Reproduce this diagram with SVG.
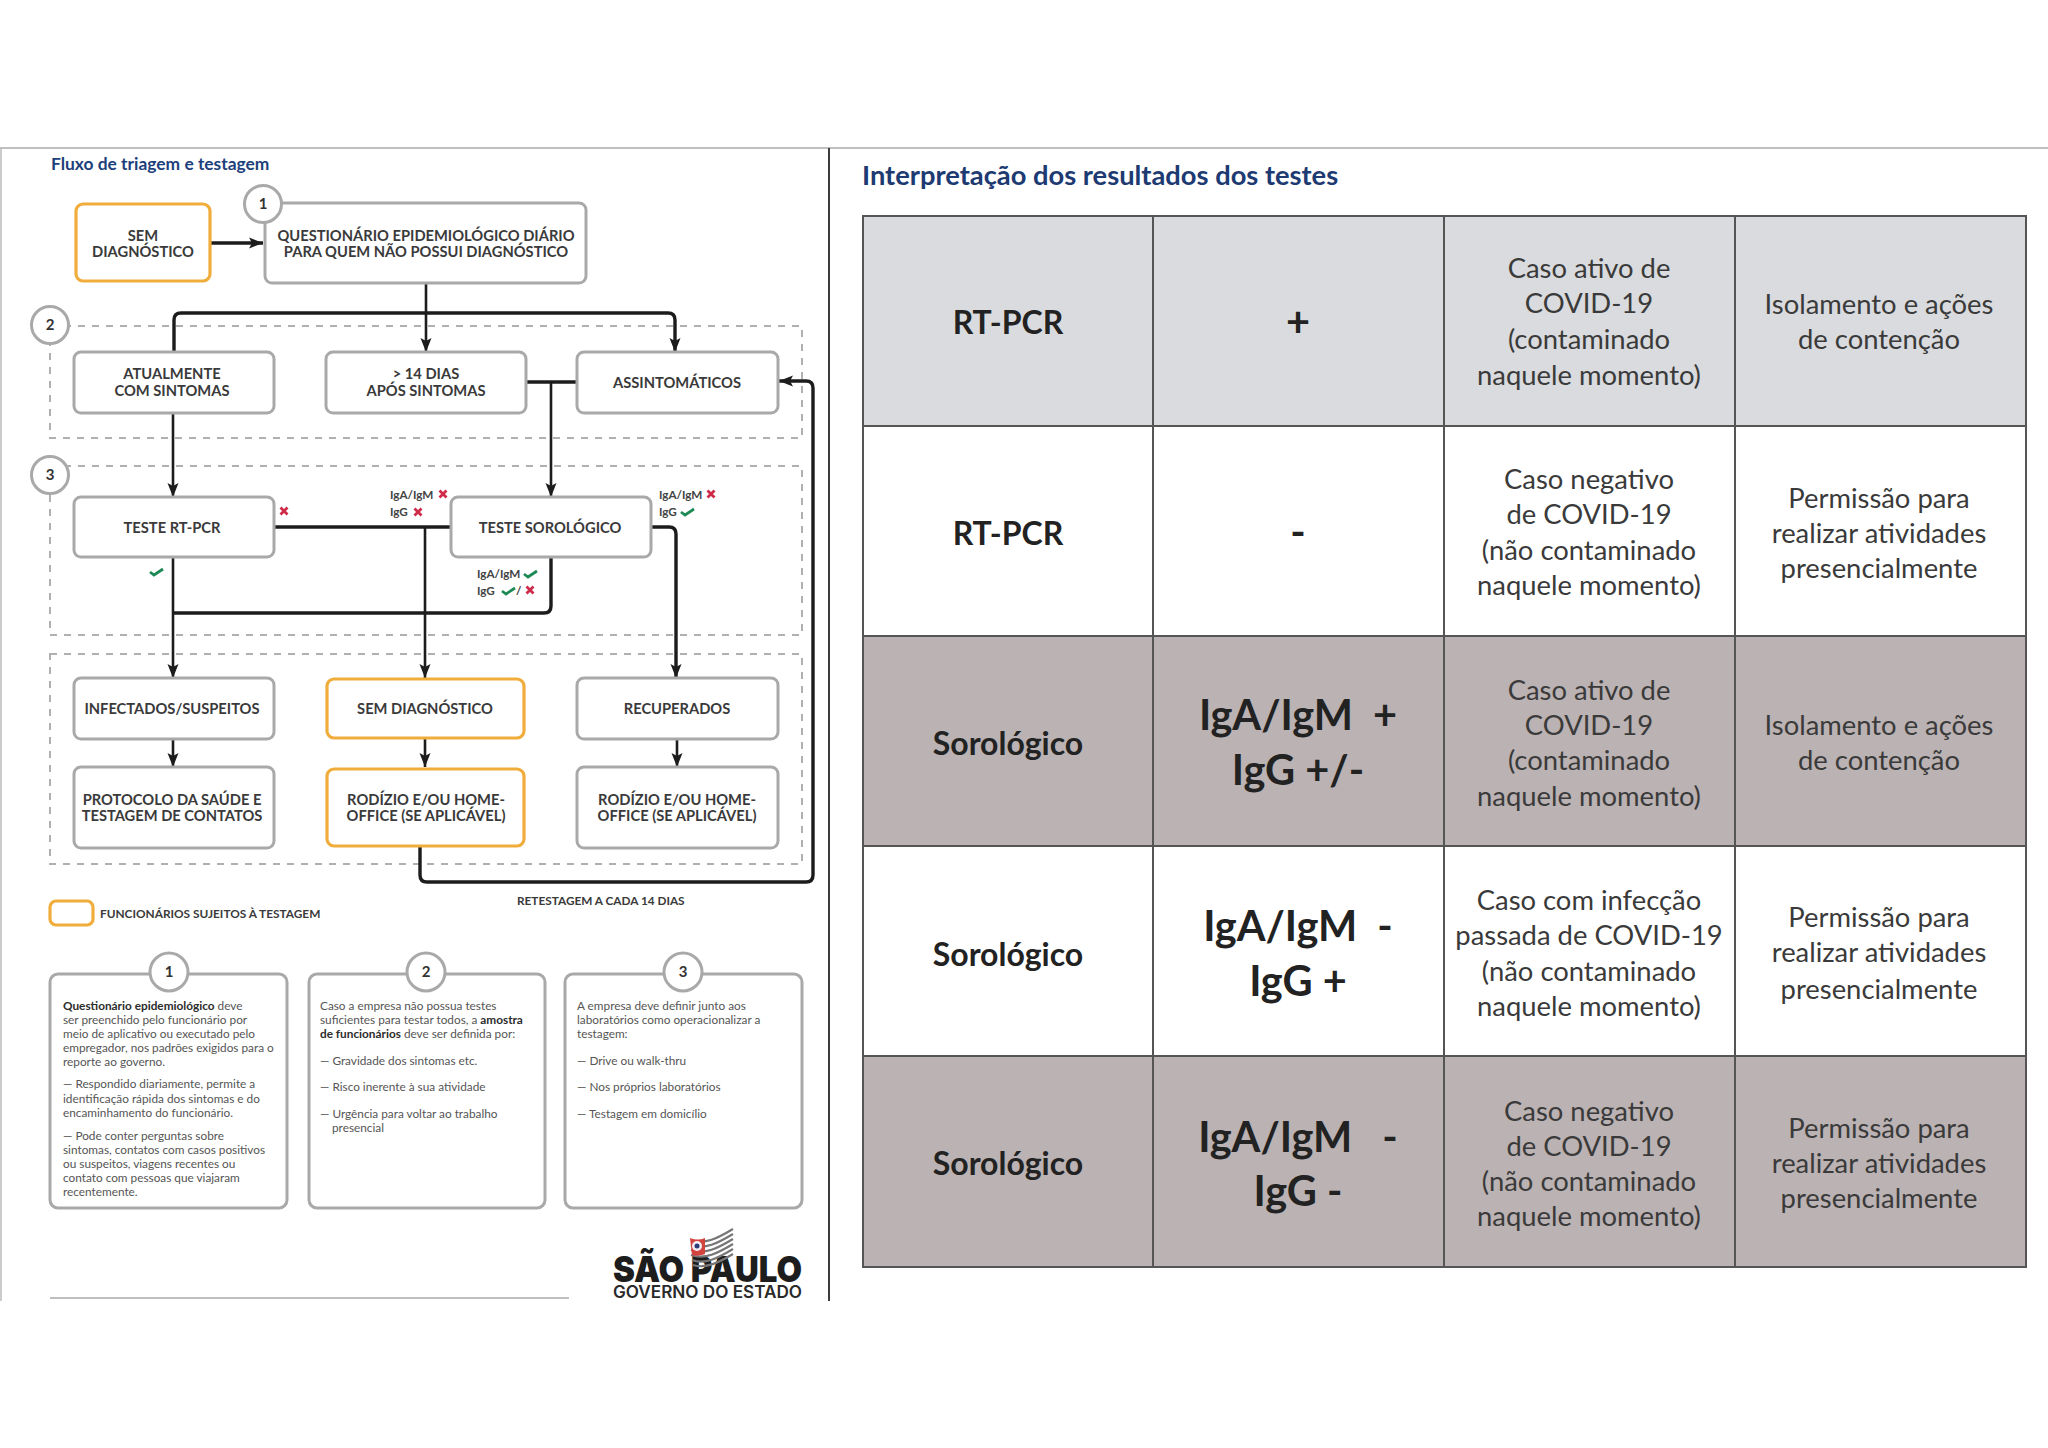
<svg xmlns="http://www.w3.org/2000/svg" width="2048" height="1448" viewBox="0 0 2048 1448">
<style>
text{font-family:Lato,"Liberation Sans",sans-serif}
.box{fill:#fff;stroke:#a9a9a9;stroke-width:3}
.or{fill:#fff;stroke:#f0ad3c;stroke-width:3.2}
.dash{fill:none;stroke:#b0b0b0;stroke-width:2;stroke-dasharray:7 7}
.n{font-size:14.7px;font-weight:700;fill:#3a3a3a;text-anchor:middle}
.circ{fill:#fff;stroke:#a9a9a9;stroke-width:3}
.cn{font-size:15px;font-weight:700;fill:#333;text-anchor:middle}
.w{fill:none;stroke:#1c1c1c;stroke-width:2.6}
.wa{fill:none;stroke:#1c1c1c;stroke-width:2.6;marker-end:url(#a)}
.t{stroke-width:3.4}
.s{font-size:11.7px;font-weight:700;fill:#444}
.p{font-size:11.8px;fill:#555}
.cell{stroke:#555;stroke-width:2}
.c1{font-size:32px;font-weight:700;fill:#222;text-anchor:middle}
.c2{font-size:41.5px;font-weight:700;fill:#222;text-anchor:middle;white-space:pre}
.c3{font-size:27.4px;fill:#3a3a3a;text-anchor:middle}
.x{fill:none;stroke:#cf2a48;stroke-width:2.8}
.k{fill:none;stroke:#1d8a56;stroke-width:2.8}
</style>
<defs>
<marker id="a" markerUnits="userSpaceOnUse" markerWidth="15" markerHeight="12" refX="14" refY="6" orient="auto"><path d="M0 0.5L14 6L0 11.5L3 6Z" fill="#1c1c1c"/></marker>
<path id="cross" class="x" d="M-3.5-3.5L3.5 3.5M-3.5 3.5L3.5-3.5"/>
<path id="check" class="k" d="M-7 0L-3 3L6-3"/>
</defs>
<rect width="2048" height="1448" fill="#fff"/>
<g id="frame">
<path d="M0 148H2048" stroke="#aaa" stroke-width="1.5"/>
<path d="M1 148V1301" stroke="#bbb" stroke-width="1.5"/>
<path d="M829 148V1301" stroke="#3c3c3c" stroke-width="2"/>
<path d="M50 1298H569" stroke="#aaa" stroke-width="1.5"/>
</g>
<text x="51" y="170" font-size="17.4" font-weight="700" fill="#1d3f7c">Fluxo de triagem e testagem</text>
<text x="862" y="185" font-size="27.3" font-weight="700" fill="#1d3a72">Interpretação dos resultados dos testes</text>

<g id="regions">
<rect class="dash" x="50" y="326" width="752" height="112"/>
<rect class="dash" x="50" y="466" width="752" height="169"/>
<rect class="dash" x="50" y="654" width="752" height="210"/>
</g>

<g id="connectors">
<path class="wa t" d="M210 243H263"/>
<path class="wa" d="M426 283V352"/>
<path class="wa t" d="M174 352V320Q174 313 181 313H668Q675 313 675 320V352"/>
<path class="w t" d="M526 382H577"/>
<path class="wa" d="M551 382V497"/>
<path class="wa" d="M173 413V497"/>
<path class="w t" d="M275 527H451"/>
<path class="wa" d="M425 527V678"/>
<path class="wa" d="M173 557V678"/>
<path class="w t" d="M551 557V606Q551 613 544 613H173"/>
<path class="wa t" d="M651 527H669Q676 527 676 534V678"/>
<path class="wa" d="M173 739V767"/>
<path class="wa" d="M425 739V767"/>
<path class="wa" d="M677 739V767"/>
<path class="wa t" d="M420 846V875Q420 882 427 882H806Q813 882 813 875V388Q813 381 806 381H779"/>
</g>

<g id="n-sem"><rect class="or" x="76" y="204" width="134" height="77" rx="7"/><text class="n" x="143" y="241">SEM</text><text class="n" x="143" y="257">DIAGNÓSTICO</text></g>
<g id="n-quest"><rect class="box" x="265" y="203" width="321" height="80" rx="7"/><text class="n" x="426" y="241">QUESTIONÁRIO EPIDEMIOLÓGICO DIÁRIO</text><text class="n" x="426" y="257">PARA QUEM NÃO POSSUI DIAGNÓSTICO</text></g>
<g id="c1"><circle class="circ" cx="263" cy="204" r="18.5"/><text class="cn" x="263" y="209">1</text></g>
<g id="c2"><circle class="circ" cx="50" cy="325" r="18.5"/><text class="cn" x="50" y="330">2</text></g>
<g id="c3"><circle class="circ" cx="50" cy="475" r="18.5"/><text class="cn" x="50" y="480">3</text></g>
<g id="n-atual"><rect class="box" x="74" y="352" width="200" height="61" rx="7"/><text class="n" x="172" y="379">ATUALMENTE</text><text class="n" x="172" y="396">COM SINTOMAS</text></g>
<g id="n-14"><rect class="box" x="326" y="352" width="200" height="61" rx="7"/><text class="n" x="426" y="379">&gt; 14 DIAS</text><text class="n" x="426" y="396">APÓS SINTOMAS</text></g>
<g id="n-assint"><rect class="box" x="577" y="352" width="201" height="61" rx="7"/><text class="n" x="677" y="388">ASSINTOMÁTICOS</text></g>
<g id="n-rt"><rect class="box" x="74" y="497" width="200" height="60" rx="7"/><text class="n" x="172" y="533">TESTE RT-PCR</text></g>
<g id="n-soro"><rect class="box" x="451" y="497" width="200" height="60" rx="7"/><text class="n" x="550" y="533">TESTE SOROLÓGICO</text></g>
<g id="n-inf"><rect class="box" x="74" y="678" width="200" height="61" rx="7"/><text class="n" x="172" y="714">INFECTADOS/SUSPEITOS</text></g>
<g id="n-semd"><rect class="or" x="327" y="679" width="197" height="59" rx="7"/><text class="n" x="425" y="714">SEM DIAGNÓSTICO</text></g>
<g id="n-rec"><rect class="box" x="577" y="678" width="201" height="61" rx="7"/><text class="n" x="677" y="714">RECUPERADOS</text></g>
<g id="n-prot"><rect class="box" x="74" y="767" width="200" height="81" rx="7"/><text class="n" x="172" y="805">PROTOCOLO DA SAÚDE E</text><text class="n" x="172" y="821">TESTAGEM DE CONTATOS</text></g>
<g id="n-rod1"><rect class="or" x="327" y="769" width="197" height="77" rx="7"/><text class="n" x="426" y="805">RODÍZIO E/OU HOME-</text><text class="n" x="426" y="821">OFFICE (SE APLICÁVEL)</text></g>
<g id="n-rod2"><rect class="box" x="577" y="767" width="201" height="81" rx="7"/><text class="n" x="677" y="805">RODÍZIO E/OU HOME-</text><text class="n" x="677" y="821">OFFICE (SE APLICÁVEL)</text></g>

<g id="marks">
<text class="s" x="390" y="499">IgA/IgM</text><use href="#cross" x="443" y="494"/>
<text class="s" x="390" y="516">IgG</text><use href="#cross" x="418" y="512"/>
<text class="s" x="659" y="499">IgA/IgM</text><use href="#cross" x="711" y="494"/>
<text class="s" x="659" y="516">IgG</text><use href="#check" x="688" y="512"/>
<use href="#cross" x="284" y="511"/><use href="#check" x="157" y="572"/>
<text class="s" x="477" y="578">IgA/IgM</text><use href="#check" x="531" y="574"/>
<text class="s" x="477" y="595">IgG</text><use href="#check" x="509" y="591"/><text class="s" x="516" y="595">/</text><use href="#cross" x="530" y="590"/>
</g>

<g id="legend"><rect class="or" x="50" y="901" width="43" height="24" rx="6"/><text x="100" y="918" font-size="11.85" font-weight="700" fill="#3a3a3a">FUNCIONÁRIOS SUJEITOS À TESTAGEM</text></g>
<text x="517" y="905" font-size="11.8" font-weight="700" fill="#3a3a3a">RETESTAGEM A CADA 14 DIAS</text>

<g id="note1"><rect class="box" x="50" y="974" width="237" height="234" rx="8"/><circle class="circ" cx="169" cy="972" r="19"/><text class="cn" x="169" y="977">1</text>
<text class="p" x="63" y="1010"><tspan font-weight="700" fill="#2c2c2c">Questionário epidemiológico</tspan> deve</text>
<text class="p" x="63" y="1024">ser preenchido pelo funcionário por</text>
<text class="p" x="63" y="1038">meio de aplicativo ou executado pelo</text>
<text class="p" x="63" y="1052">empregador, nos padrões exigidos para o</text>
<text class="p" x="63" y="1066">reporte ao governo.</text>
<text class="p" x="63" y="1088">— Respondido diariamente, permite a</text>
<text class="p" x="63" y="1103">identificação rápida dos sintomas e do</text>
<text class="p" x="63" y="1117">encaminhamento do funcionário.</text>
<text class="p" x="63" y="1140">— Pode conter perguntas sobre</text>
<text class="p" x="63" y="1154">sintomas, contatos com casos positivos</text>
<text class="p" x="63" y="1168">ou suspeitos, viagens recentes ou</text>
<text class="p" x="63" y="1182">contato com pessoas que viajaram</text>
<text class="p" x="63" y="1196">recentemente.</text></g>
<g id="note2"><rect class="box" x="309" y="974" width="236" height="234" rx="8"/><circle class="circ" cx="426" cy="972" r="19"/><text class="cn" x="426" y="977">2</text>
<text class="p" x="320" y="1010">Caso a empresa não possua testes</text>
<text class="p" x="320" y="1024">suficientes para testar todos, a <tspan font-weight="700" fill="#2c2c2c">amostra</tspan></text>
<text class="p" x="320" y="1038"><tspan font-weight="700" fill="#2c2c2c">de funcionários</tspan> deve ser definida por:</text>
<text class="p" x="320" y="1065">— Gravidade dos sintomas etc.</text>
<text class="p" x="320" y="1091">— Risco inerente à sua atividade</text>
<text class="p" x="320" y="1118">— Urgência para voltar ao trabalho</text>
<text class="p" x="332" y="1132">presencial</text></g>
<g id="note3"><rect class="box" x="565" y="974" width="237" height="234" rx="8"/><circle class="circ" cx="683" cy="972" r="19"/><text class="cn" x="683" y="977">3</text>
<text class="p" x="577" y="1010">A empresa deve definir junto aos</text>
<text class="p" x="577" y="1024">laboratórios como operacionalizar a</text>
<text class="p" x="577" y="1038">testagem:</text>
<text class="p" x="577" y="1065">— Drive ou walk-thru</text>
<text class="p" x="577" y="1091">— Nos próprios laboratórios</text>
<text class="p" x="577" y="1118">— Testagem em domicílio</text></g>

<g id="logo">
<text x="613" y="1282" font-size="36" font-weight="900" fill="#1d1d1d" textLength="189" lengthAdjust="spacingAndGlyphs" style="font-family:Inter,'Liberation Sans',sans-serif">SÃO PAULO</text>
<text x="613" y="1298" font-size="17" font-weight="600" fill="#2a2a2a" textLength="189" lengthAdjust="spacingAndGlyphs" style="font-family:Inter,'Liberation Sans',sans-serif">GOVERNO DO ESTADO</text>
<g fill="none" stroke="#777" stroke-width="2.2">
<path d="M691 1240C705 1245 718 1238 733 1229"/><path d="M691 1245C705 1250 718 1243 733 1234"/><path d="M691 1250C705 1255 718 1248 733 1239"/><path d="M691 1255C705 1260 718 1253 733 1244"/><path d="M692 1260C705 1265 718 1258 733 1249"/><path d="M693 1265C705 1269 718 1263 733 1254"/>
</g>
<path d="M690 1238C695 1240 700 1240 705 1238V1254C700 1256 695 1256 692 1255Z" fill="#d3443f"/>
<circle cx="697" cy="1246" r="5" fill="#f4eef0"/><circle cx="697" cy="1246" r="2.5" fill="#2d3c78"/>
</g>

<g id="table">
<rect class="cell" x="863" y="216" width="290" height="210" fill="#d9dbde"/><rect class="cell" x="1153" y="216" width="291" height="210" fill="#d9dbde"/><rect class="cell" x="1444" y="216" width="291" height="210" fill="#d9dbde"/><rect class="cell" x="1735" y="216" width="291" height="210" fill="#d9dbde"/>
<rect class="cell" x="863" y="426" width="290" height="210" fill="#fff"/><rect class="cell" x="1153" y="426" width="291" height="210" fill="#fff"/><rect class="cell" x="1444" y="426" width="291" height="210" fill="#fff"/><rect class="cell" x="1735" y="426" width="291" height="210" fill="#fff"/>
<rect class="cell" x="863" y="636" width="290" height="210" fill="#bab2b3"/><rect class="cell" x="1153" y="636" width="291" height="210" fill="#bab2b3"/><rect class="cell" x="1444" y="636" width="291" height="210" fill="#bab2b3"/><rect class="cell" x="1735" y="636" width="291" height="210" fill="#bab2b3"/>
<rect class="cell" x="863" y="846" width="290" height="210" fill="#fff"/><rect class="cell" x="1153" y="846" width="291" height="210" fill="#fff"/><rect class="cell" x="1444" y="846" width="291" height="210" fill="#fff"/><rect class="cell" x="1735" y="846" width="291" height="210" fill="#fff"/>
<rect class="cell" x="863" y="1056" width="290" height="211" fill="#bab2b3"/><rect class="cell" x="1153" y="1056" width="291" height="211" fill="#bab2b3"/><rect class="cell" x="1444" y="1056" width="291" height="211" fill="#bab2b3"/><rect class="cell" x="1735" y="1056" width="291" height="211" fill="#bab2b3"/>

<text class="c1" x="1008" y="334">RT-PCR</text><text class="c1" x="1008" y="545">RT-PCR</text><text class="c1" x="1008" y="755">Sorológico</text><text class="c1" x="1008" y="966">Sorológico</text><text class="c1" x="1008" y="1175">Sorológico</text>
<text class="c2" x="1298" y="337">+</text><text class="c2" x="1298" y="547">-</text>
<text class="c2" x="1298" y="730">IgA/IgM  +</text><text class="c2" x="1298" y="785">IgG +/-</text>
<text class="c2" x="1298" y="941">IgA/IgM  -</text><text class="c2" x="1298" y="996">IgG +</text>
<text class="c2" x="1298" y="1152">IgA/IgM   -</text><text class="c2" x="1298" y="1206">IgG -</text>

<text class="c3" x="1589" y="278">Caso ativo de</text><text class="c3" x="1589" y="313">COVID-19</text><text class="c3" x="1589" y="349">(contaminado</text><text class="c3" x="1589" y="385">naquele momento)</text>
<text class="c3" x="1589" y="489">Caso negativo</text><text class="c3" x="1589" y="524">de COVID-19</text><text class="c3" x="1589" y="560">(não contaminado</text><text class="c3" x="1589" y="595">naquele momento)</text>
<text class="c3" x="1589" y="700">Caso ativo de</text><text class="c3" x="1589" y="735">COVID-19</text><text class="c3" x="1589" y="770">(contaminado</text><text class="c3" x="1589" y="806">naquele momento)</text>
<text class="c3" x="1589" y="910">Caso com infecção</text><text class="c3" x="1589" y="945">passada de COVID-19</text><text class="c3" x="1589" y="981">(não contaminado</text><text class="c3" x="1589" y="1016">naquele momento)</text>
<text class="c3" x="1589" y="1121">Caso negativo</text><text class="c3" x="1589" y="1156">de COVID-19</text><text class="c3" x="1589" y="1191">(não contaminado</text><text class="c3" x="1589" y="1226">naquele momento)</text>

<text class="c3" x="1879" y="314">Isolamento e ações</text><text class="c3" x="1879" y="349">de contenção</text>
<text class="c3" x="1879" y="508">Permissão para</text><text class="c3" x="1879" y="543">realizar atividades</text><text class="c3" x="1879" y="578">presencialmente</text>
<text class="c3" x="1879" y="735">Isolamento e ações</text><text class="c3" x="1879" y="770">de contenção</text>
<text class="c3" x="1879" y="927">Permissão para</text><text class="c3" x="1879" y="962">realizar atividades</text><text class="c3" x="1879" y="999">presencialmente</text>
<text class="c3" x="1879" y="1138">Permissão para</text><text class="c3" x="1879" y="1173">realizar atividades</text><text class="c3" x="1879" y="1208">presencialmente</text>
</g>
</svg>
